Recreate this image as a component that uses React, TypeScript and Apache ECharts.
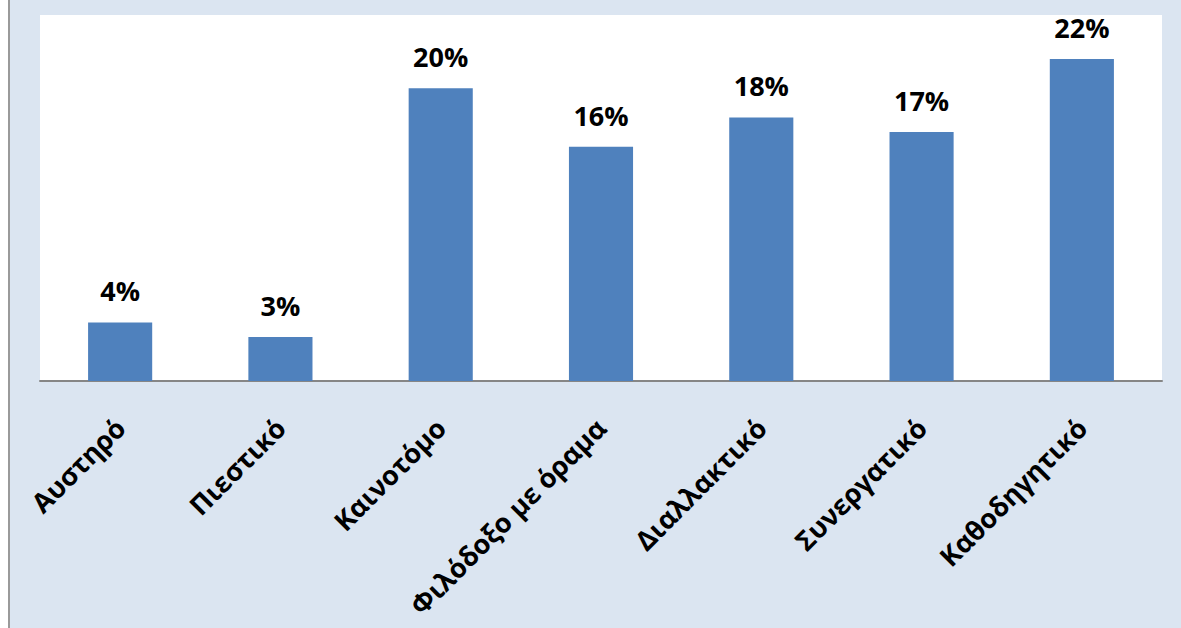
import React, { useEffect, useRef } from "react";
import * as echarts from "echarts";

const categories = ["Αυστηρό", "Πιεστικό", "Καινοτόμο", "Φιλόδοξο με όραμα", "Διαλλακτικό", "Συνεργατικό", "Καθοδηγητικό"];
const values = [4, 3, 20, 16, 18, 17, 22];

export default function App() {
  const ref = useRef<HTMLDivElement>(null);
  useEffect(() => {
    const chart = echarts.init(ref.current!, null, { renderer: "svg" });
    chart.setOption({
      animation: false,
      backgroundColor: "#dbe5f1",
      graphic: [
        { type: "rect", shape: { x: 0, y: 0, width: 8, height: 628 }, style: { fill: "#ffffff" } },
        { type: "rect", shape: { x: 8, y: 0, width: 2, height: 628 }, style: { fill: "#9a9a9a" } },
      ],
      grid: {
        left: 40,
        top: 15,
        right: 19,
        bottom: 247,
        show: true,
        backgroundColor: "#ffffff",
        borderWidth: 0,
      },
      xAxis: {
        type: "category",
        data: categories,
        axisLine: { show: true, lineStyle: { color: "#868686", width: 2 } },
        axisTick: { show: false },
        axisLabel: {
          rotate: 45,
          interval: 0,
          margin: 42,
          verticalAlign: "middle",
          fontFamily: "Open Sans",
          fontWeight: "bold",
          fontSize: 27,
          color: "#000000",
        },
      },
      yAxis: {
        type: "value",
        min: 0,
        max: 25,
        show: false,
        splitLine: { show: false },
      },
      series: [
        {
          type: "bar",
          data: values,
          barCategoryGap: "60%",
          itemStyle: { color: "#4f81bd" },
          label: {
            show: true,
            position: "top",
            distance: 18,
            formatter: "{c}%",
            fontFamily: "Open Sans",
            fontWeight: "bold",
            fontSize: 27,
            color: "#000000",
          },
        },
      ],
    });
    return () => chart.dispose();
  }, []);
  return <div ref={ref} style={{ position: "absolute", left: 0, top: 0, width: 1181, height: 628 }} />;
}
